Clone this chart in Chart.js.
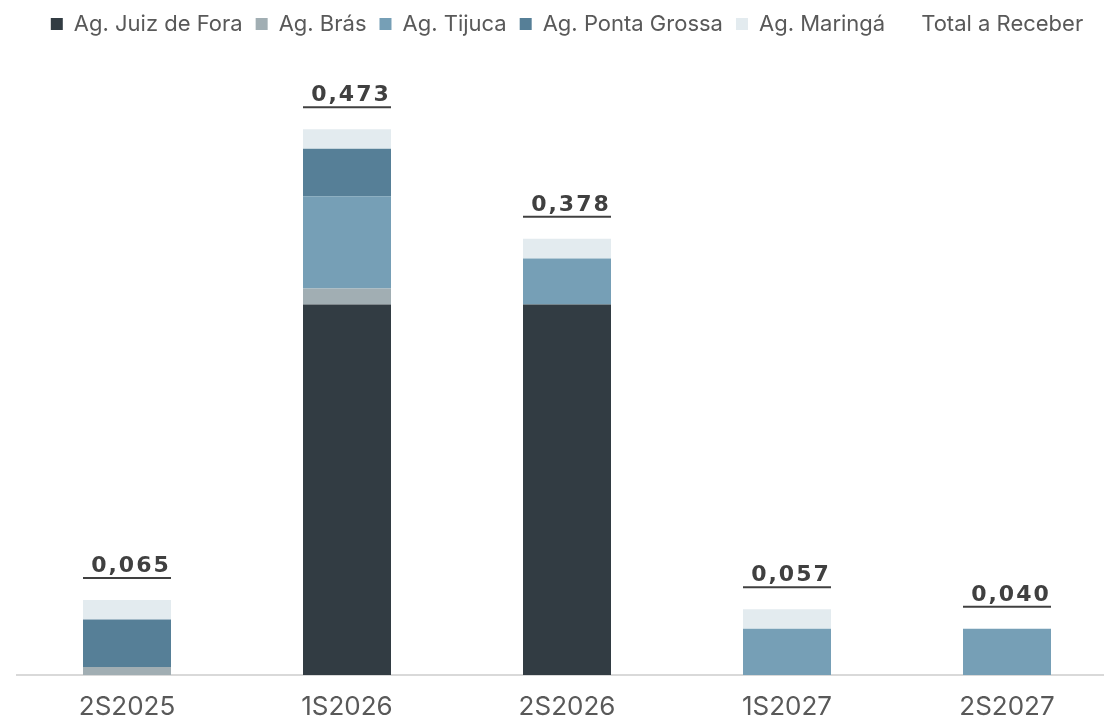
<!DOCTYPE html>
<html>
<head>
<meta charset="utf-8">
<script src="https://cdn.jsdelivr.net/npm/chart.js@4"></script>
<style>
  html, body { margin: 0; padding: 0; background: #fff; overflow: hidden; }
  #wrap { width: 1134px; height: 739px; }
</style>
</head>
<body>
<div id="wrap"><canvas id="recebiveisChart" width="1134" height="739"></canvas></div>
<script>
const periodos = ["2S2025", "1S2026", "2S2026", "1S2027", "2S2027"];
const juizDeFora = [0, 0.321, 0.321, 0, 0];
const bras = [0.007, 0.014, 0, 0, 0];
const tijuca = [0, 0.080, 0.040, 0.040, 0.040];
const pontaGrossa = [0.041, 0.041, 0, 0, 0];
const maringa = [0.017, 0.017, 0.017, 0.017, 0];
const totalReceber = [0.065, 0.473, 0.378, 0.057, 0.040];

document.addEventListener("DOMContentLoaded", () => {
    const ctx = document.getElementById("recebiveisChart").getContext("2d");

    // rótulos do total acima das barras, sublinhados
    const totalLabels = {
        id: "totalLabels",
        afterDatasetsDraw(chart) {
            const meta = chart.getDatasetMeta(5);
            const barMeta = chart.getDatasetMeta(0);
            const c = chart.ctx;
            c.save();
            c.font = "bold 22px 'DejaVu Sans'";
            c.letterSpacing = "2px";
            c.fillStyle = "#404040";
            c.strokeStyle = "#404040";
            c.lineWidth = 2;
            c.textAlign = "center";
            c.textBaseline = "alphabetic";
            meta.data.forEach((pt, i) => {
                const half = barMeta.data[i].width / 2;
                const lineY = pt.y - 22;
                c.beginPath();
                c.moveTo(pt.x - half, lineY);
                c.lineTo(pt.x + half, lineY);
                c.stroke();
                c.fillText(totalReceber[i].toFixed(3).replace(".", ","), pt.x + 4, lineY - 6);
            });
            c.restore();
        }
    };

    const bar = (label, data, color) => ({
        type: "bar",
        label: label,
        data: data,
        backgroundColor: color,
        stack: "agencias",
        barPercentage: 0.4,
        categoryPercentage: 1
    });

    new Chart(ctx, {
        type: "bar",
        data: {
            labels: periodos,
            datasets: [
                bar("Ag. Juiz de Fora", juizDeFora, "#323c43"),
                bar("Ag. Brás", bras, "#a1aeb3"),
                bar("Ag. Tijuca", tijuca, "#769fb6"),
                bar("Ag. Ponta Grossa", pontaGrossa, "#567f97"),
                bar("Ag. Maringá", maringa, "#e3ebef"),
                {
                    type: "line",
                    label: "Total a Receber",
                    data: totalReceber,
                    stack: "total",
                    borderColor: "rgba(0,0,0,0)",
                    backgroundColor: "rgba(0,0,0,0)",
                    pointRadius: 0,
                    showLine: false
                }
            ]
        },
        options: {
            responsive: false,
            animation: false,
            layout: { padding: { left: 17, right: 17, top: 0, bottom: 0 } },
            plugins: {
                legend: {
                    display: true,
                    position: "top",
                    labels: {
                        color: "#595959",
                        font: { family: "Inter", size: 22 },
                        boxWidth: 12,
                        boxHeight: 12,
                        padding: 13
                    }
                },
                tooltip: { enabled: false }
            },
            scales: {
                x: {
                    stacked: true,
                    grid: { display: false, drawTicks: false },
                    border: { color: "#d9d9d9", width: 2 },
                    ticks: {
                        color: "#595959",
                        font: { family: "Inter", size: 26, lineHeight: 1 },
                        padding: 19
                    }
                },
                y: {
                    stacked: true,
                    display: false,
                    min: 0,
                    max: 0.546
                }
            }
        },
        plugins: [totalLabels]
    });
});
</script>
</body>
</html>
